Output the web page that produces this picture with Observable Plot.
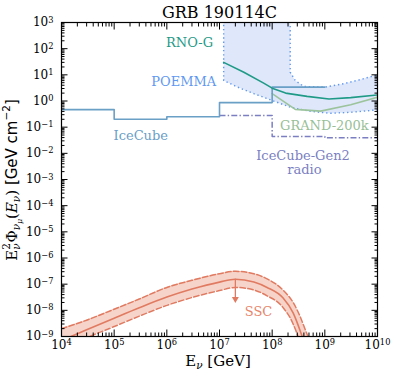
<!DOCTYPE html>
<html><head><meta charset="utf-8">
<script src="https://cdn.jsdelivr.net/npm/d3@7"></script>
<script src="https://cdn.jsdelivr.net/npm/@observablehq/plot@0.6"></script>
<style>body{margin:0;background:#fff;} svg{display:block;}</style>
</head><body><div id="chart"></div>
<script>
// ---- data ----
const xMajor = [1e4, 1e5, 1e6, 1e7, 1e8, 1e9, 1e10];
const yMajor = [1e-9, 1e-8, 1e-7, 1e-6, 1e-5, 1e-4, 1e-3, 1e-2, 1e-1, 1e0, 1e1, 1e2, 1e3];

const iceCubeE = [1e4, 1e5, 1e6, 1e7, 1e8, 1e9];
const iceCubeF = [0.47, 0.2, 0.25, 0.87, 3.4, 3.4];

const gen2E = [1e7, 1e8, 1e9, 1e10];
const gen2F = [0.28, 0.044, 0.039, 0.039];

const rnoE = [1.2e7, 2.9e7, 6.9e7, 1e8, 1.8e8, 4.6e8, 1.2e9, 3.1e9, 1e10];
const rnoF = [30, 12.6, 4.8, 3.1, 2.0, 1.5, 1.2, 1.35, 1.7];

const grandE = [1e8, 2.75e8, 8.3e8, 3.1e9, 1e10];
const grandF = [1.9, 0.48, 0.41, 0.72, 1.4];

// POEMMA region outline (closed), top part extends above the plotted range
const poemmaE = [1.2e7, 1.2e7, 2.2e7, 4.5e7, 1e8, 2.2e8, 5.4e8, 1.3e9, 3.1e9, 1e10, 1e10, 4.8e9, 2.3e9, 1e9, 4e8, 2.75e8, 2.2e8, 2.2e8];
const poemmaF = [1e5, 6.1, 3.4, 1.9, 1.05, 0.58, 0.40, 0.34, 0.37, 0.46, 10, 6.6, 4.6, 3.4, 3.6, 6, 12.6, 1e5];

const sscE   = [1e4, 3e4, 1e5, 3e5, 1e6, 3e6, 1e7, 2e7, 4.5e7, 8e7, 1.6e8, 2.5e8, 3.5e8, 4e8, 5e8];
const sscMid = [7e-10, 1.8e-9, 5e-9, 1.25e-8, 3.2e-8, 6.5e-8, 1.2e-7, 1.55e-7, 1.2e-7, 7.5e-8, 3e-8, 8e-9, 1.4e-9, 6.3e-10, 1.3e-10];
const sscHi  = [2e-9, 4.2e-9, 1.1e-8, 2.7e-8, 7.5e-8, 1.4e-7, 2.5e-7, 3.1e-7, 2.5e-7, 1.6e-7, 6e-8, 2e-8, 5e-9, 2.5e-9, 8e-10];
const sscLo  = [3.3e-10, 9e-10, 2.4e-9, 6e-9, 1.55e-8, 3.1e-8, 5.7e-8, 7.5e-8, 6e-8, 3.6e-8, 1.3e-8, 3e-9, 4e-10, 1e-10, 1e-11];

const arrowE = [2e7];
const arrowFrom = [1.55e-7];
const arrowTo = [2.7e-8];

const labelText = ["RNO-G", "POEMMA", "IceCube", "GRAND-200k", "IceCube-Gen2", "radio", "SSC"];
const labelE    = [2.7e6, 2.1e6, 3.2e5, 9.8e8, 3.85e8, 4.1e8, 5.5e7];
const labelF    = [172, 5.3, 0.048, 0.116, 0.0083, 0.0024, 9.1e-9];
const labelColor = ["#1f9a87", "#5f98f0", "#6aa0c8", "#97c097", "#7b7fc2", "#7b7fc2", "#e8846a"];

// ---- build tables ----
const zip = (xs, ys) => xs.map((x, i) => ({x, y: ys[i]}));
const ssc = sscE.map((e, i) => ({x: e, mid: sscMid[i], hi: sscHi[i], lo: sscLo[i]}));
const labels = labelText.map((t, i) => ({t, x: labelE[i], y: labelF[i], c: labelColor[i]}));
const arrows = arrowE.map((e, i) => ({x: e, y1: arrowFrom[i], y2: arrowTo[i]}));
function minors(m) { const o = []; for (let i = 0; i < m.length - 1; i++) for (let k = 2; k <= 9; k++) o.push(m[i] * k); return o; }
const xMinor = minors(xMajor), yMinor = minors(yMajor);
const fmt = d => "10^" + Math.round(Math.log10(d));
const none = () => "";
const serif = "DejaVu Serif";

const sscColor = "#e07b62";
const plot = Plot.plot({
  width: 395, height: 374,
  marginLeft: 61, marginRight: 18, marginTop: 22, marginBottom: 38,
  style: {fontFamily: serif, fontSize: "12px", background: "white", color: "black", overflow: "visible"},
  x: {type: "log", domain: [1e4, 1e10], label: null},
  y: {type: "log", domain: [1e-9, 1e3], label: null},
  marks: [
    Plot.line(zip(poemmaE, poemmaF), {x: "x", y: "y", fill: "#dfe7fb", stroke: "#5f98f0", strokeWidth: 1.4, strokeDasharray: "1.4,2.8", strokeLinecap: "butt", curve: "linear", clip: true}),
    Plot.areaY(ssc, {x: "x", y1: "lo", y2: "hi", fill: "#f6cdbf", fillOpacity: 0.85, curve: "monotone-x", clip: true}),
    Plot.line(ssc, {x: "x", y: "hi", stroke: sscColor, strokeWidth: 1.5, strokeDasharray: "5.5,2.4", curve: "monotone-x", clip: true}),
    Plot.line(ssc, {x: "x", y: "lo", stroke: sscColor, strokeWidth: 1.5, strokeDasharray: "5.5,2.4", curve: "monotone-x", clip: true}),
    Plot.line(ssc, {x: "x", y: "mid", stroke: sscColor, strokeWidth: 1.6, curve: "monotone-x", clip: true}),
    Plot.ruleX(arrows, {x: "x", y1: "y1", y2: "y2", stroke: sscColor, strokeWidth: 1.3}),
    Plot.dot(arrows, {x: "x", y: "y2", symbol: "triangle", rotate: 180, r: 2.6, fill: sscColor, stroke: "none"}),
    Plot.line(zip(gen2E, gen2F), {x: "x", y: "y", stroke: "#7b7fc2", strokeWidth: 1.5, strokeDasharray: "6,2.2,1.4,2.2", strokeLinecap: "butt", curve: "step-after", clip: true}),
    Plot.line(zip(grandE, grandF), {x: "x", y: "y", stroke: "#9cc49c", strokeWidth: 1.6, clip: true}),
    Plot.line(zip(iceCubeE, iceCubeF), {x: "x", y: "y", stroke: "#6a9fc6", strokeWidth: 1.6, curve: "step-after", clip: true}),
    Plot.line(zip(rnoE, rnoF), {x: "x", y: "y", stroke: "#1f9a87", strokeWidth: 1.6, clip: true}),
    Plot.text(labels, {x: "x", y: "y", text: "t", fill: "c", fontSize: 13, fontFamily: serif, lineAnchor: "middle"}),
    Plot.text(["GRB 190114C"], {frameAnchor: "top", dy: -5, lineAnchor: "bottom", fontSize: 16, fontFamily: serif, fill: "black"}),
    Plot.frame({stroke: "black", strokeWidth: 1.2}),
    // ticks (inward)
    Plot.axisX(xMajor, {anchor: "bottom", tickSize: -6.5, tickFormat: none, label: null}),
    Plot.axisX(xMinor, {anchor: "bottom", tickSize: -3.5, tickFormat: none, label: null}),
    Plot.axisX(xMajor, {anchor: "top", tickSize: -6.5, tickFormat: none, label: null}),
    Plot.axisX(xMinor, {anchor: "top", tickSize: -3.5, tickFormat: none, label: null}),
    Plot.axisY(yMajor, {anchor: "left", tickSize: -6.5, tickFormat: none, label: null}),
    Plot.axisY(yMinor, {anchor: "left", tickSize: -3.5, tickFormat: none, label: null}),
    Plot.axisY(yMajor, {anchor: "right", tickSize: -6.5, tickFormat: none, label: null}),
    Plot.axisY(yMinor, {anchor: "right", tickSize: -3.5, tickFormat: none, label: null}),
    // tick labels
    Plot.axisX(xMajor, {anchor: "bottom", tickSize: 0, tickPadding: 4, tickFormat: fmt, label: null, fontSize: 12, fontFamily: serif}),
    Plot.axisY(yMajor, {anchor: "left", tickSize: 0, tickPadding: 8, tickFormat: fmt, label: null, fontSize: 12, fontFamily: serif})
  ]
});
document.getElementById("chart").appendChild(plot);

// superscript exponents in tick labels
d3.select(plot).selectAll('g[aria-label$="tick label"] text').each(function () {
  const t = this.textContent;
  if (!t.includes("^")) return;
  const [b, e] = t.split("^");
  const s = d3.select(this); s.text(null);
  s.append("tspan").text(b);
  s.append("tspan").attr("dy", "-3.8").attr("font-size", "8.3").text(e.replace("-", "\u2212"));
});

// axis labels with math-style sub/superscripts
const svg = d3.select(plot);
const fs = 15;
const xl = svg.append("text").attr("x", 218).attr("y", 365.5).attr("text-anchor", "middle")
  .attr("font-family", serif).attr("font-size", fs).attr("fill", "black");
xl.append("tspan").text("E");
xl.append("tspan").attr("font-size", fs * 0.7).attr("font-style", "italic").attr("dy", fs * 0.22).text("ν");
xl.append("tspan").attr("dy", -fs * 0.22).text(" [GeV]");

const yl = svg.append("text").attr("transform", "translate(16.5,180) rotate(-90)").attr("text-anchor", "middle")
  .attr("font-family", serif).attr("font-size", fs).attr("fill", "black");
yl.append("tspan").text("E");
yl.append("tspan").attr("font-size", fs * 0.7).attr("dy", -fs * 0.42).text("2");
yl.append("tspan").attr("font-size", fs * 0.7).attr("font-style", "italic").attr("dx", -fs * 0.7 * 0.62).attr("dy", fs * 0.64).text("ν");
yl.append("tspan").attr("dy", -fs * 0.22).attr("dx", fs * 0.05).text("Φ");
yl.append("tspan").attr("font-size", fs * 0.7).attr("font-style", "italic").attr("dy", fs * 0.22).text("ν");
yl.append("tspan").attr("font-size", fs * 0.5).attr("font-style", "italic").attr("dy", fs * 0.14).text("μ");
yl.append("tspan").attr("dy", -fs * 0.36).text("(");
yl.append("tspan").attr("font-style", "italic").text("E");
yl.append("tspan").attr("font-size", fs * 0.7).attr("font-style", "italic").attr("dy", fs * 0.22).text("ν");
yl.append("tspan").attr("dy", -fs * 0.22).text(")");
yl.append("tspan").attr("font-family", "DejaVu Sans").text(" [GeV cm");
yl.append("tspan").attr("font-family", "DejaVu Sans").attr("font-size", fs * 0.7).attr("dy", -fs * 0.42).text("\u22122");
yl.append("tspan").attr("font-family", "DejaVu Sans").attr("dy", fs * 0.42).text("]");
</script>
</body></html>
